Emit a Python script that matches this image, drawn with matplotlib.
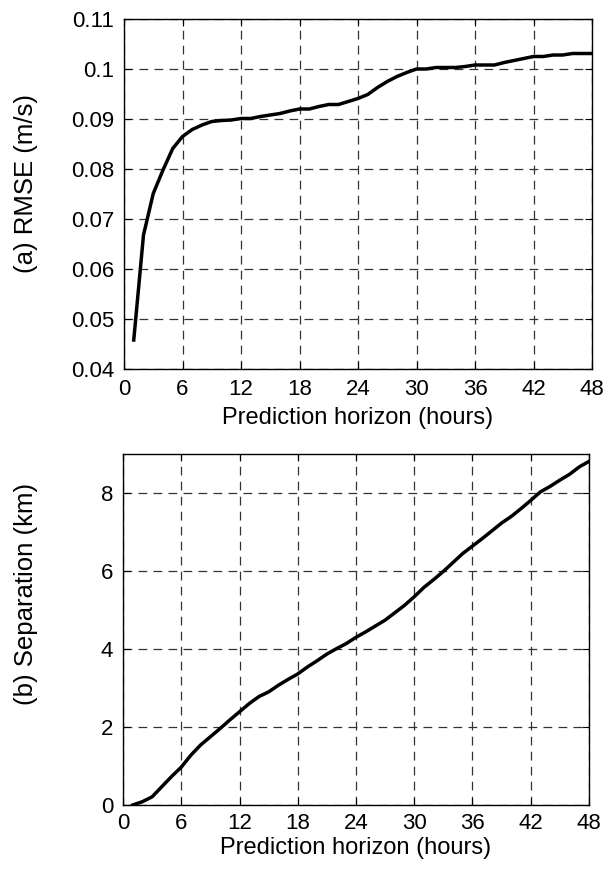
import numpy as np
import matplotlib.pyplot as plt

hours = np.arange(1, 49)

rmse = [0.0458, 0.0668, 0.0751, 0.0798, 0.0841, 0.0865, 0.0879, 0.0888, 0.0895, 0.0897,
        0.0898, 0.0901, 0.0901, 0.0905, 0.0908, 0.0911, 0.0916, 0.0920, 0.0920, 0.0925,
        0.0929, 0.0929, 0.0935, 0.0941, 0.0949, 0.0963, 0.0975, 0.0985, 0.0993, 0.1000,
        0.1000, 0.1003, 0.1003, 0.1003, 0.1005, 0.1008, 0.1008, 0.1008, 0.1013, 0.1017,
        0.1021, 0.1025, 0.1025, 0.1028, 0.1028, 0.1031, 0.1031, 0.1031]

separation = [0.00, 0.085, 0.21, 0.47, 0.73, 0.97, 1.28, 1.54, 1.75, 1.96,
              2.18, 2.39, 2.60, 2.78, 2.90, 3.07, 3.22, 3.36, 3.54, 3.70,
              3.87, 4.01, 4.14, 4.30, 4.44, 4.59, 4.74, 4.93, 5.12, 5.34,
              5.58, 5.78, 5.99, 6.22, 6.45, 6.64, 6.83, 7.03, 7.23, 7.40,
              7.60, 7.81, 8.03, 8.17, 8.33, 8.48, 8.67, 8.81]

xticks = [0, 6, 12, 18, 24, 30, 36, 42, 48]
rmse_ticks = [0.04, 0.05, 0.06, 0.07, 0.08, 0.09, 0.1, 0.11]
rmse_labels = ['0.04', '0.05', '0.06', '0.07', '0.08', '0.09', '0.1', '0.11']
sep_ticks = [0, 2, 4, 6, 8]

plt.rcParams['font.family'] = ['Liberation Sans', 'DejaVu Sans']
plt.rcParams['font.size'] = 16

fig = plt.figure(figsize=(6.08, 8.77), dpi=100)
W, H = 608, 877
ax1 = fig.add_axes([124 / W, 1 - 369 / H, (592 - 124) / W, (369 - 19) / H])
ax2 = fig.add_axes([123 / W, 1 - 805 / H, (589 - 123) / W, (805 - 454) / H])

def style(ax, xpad):
    ax.set_xlim(0, 48)
    ax.set_xticks(xticks)
    ax.grid(True, linestyle=(0, (7, 5)), color='#333333', linewidth=0.9)
    ax.tick_params(direction='in', top=True, right=True, length=5, width=0.8)
    ax.tick_params(axis='x', pad=xpad)
    ax.tick_params(axis='y', pad=7)
    for s in ax.spines.values():
        s.set_linewidth(1.0)
    ax.set_xlabel('Prediction horizon (hours)', fontsize=17)

ax1.plot(hours, rmse, color='black', linewidth=2.5)
style(ax1, 7.5)
ax1.set_ylim(0.04, 0.11)
ax1.set_yticks(rmse_ticks)
ax1.set_yticklabels(rmse_labels)
ax1.set_ylabel('(a) RMSE (m/s)', fontsize=18.5)
ax1.yaxis.set_label_coords(-0.184, 0.531)
ax1.xaxis.set_label_coords(0.5, -0.108)

ax2.plot(hours, separation, color='black', linewidth=2.5)
style(ax2, 5.5)
ax2.set_ylim(0, 9)
ax2.set_yticks(sep_ticks)
ax2.set_ylabel('(b) Separation (km)', fontsize=18.5)
ax2.yaxis.set_label_coords(-0.182, 0.60)
ax2.xaxis.set_label_coords(0.5, -0.092)

fig.savefig('out.png', dpi=100)
